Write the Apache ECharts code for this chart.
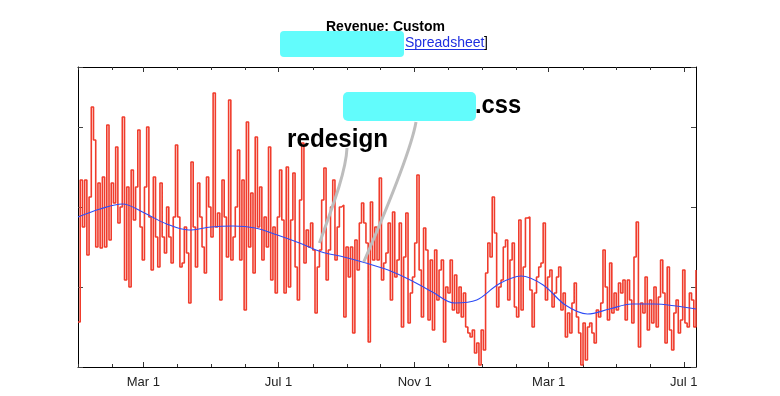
<!DOCTYPE html>
<html>
<head>
<meta charset="utf-8">
<title>Revenue: Custom</title>
<script src="https://cdn.jsdelivr.net/npm/echarts@6.0.0/dist/echarts.min.js"></script>
<style>
  html, body { margin: 0; padding: 0; background: #fff; }
  #main { width: 780px; height: 396px; }
</style>
</head>
<body>
<div id="main"></div>
<script>
// daily categories, Jan 1 2007 .. Jul 12 2008
const dayCount = 559;
const days = [];
for (let i = 0; i < dayCount; i++) {
  days.push(new Date(Date.UTC(2007, 0, 1 + i)).toISOString().slice(0, 10));
}
const monthNames = ['Jan', 'Feb', 'Mar', 'Apr', 'May', 'Jun', 'Jul', 'Aug', 'Sep', 'Oct', 'Nov', 'Dec'];
const labelMonths = ['Mar', 'Jul', 'Nov'];

// revenue, one value every 2 days
const revenue = [
  45,187,140,187,112,170,260,227,120,184,
  119,190,120,242,127,184,164,220,144,160,
  250,87,180,80,197,147,180,237,140,107,
  180,240,150,97,190,130,100,184,130,114,
  160,130,104,150,222,150,100,104,140,114,
  64,205,140,100,184,150,120,94,190,160,
  130,274,140,154,67,187,150,110,267,107,
  130,160,217,107,187,57,245,120,174,94,
  230,140,180,107,150,120,220,87,140,74,
  150,197,
  147,74,200,80,147,194,100,67,167,224,
  104,137,120,144,117,54,100,117,167,199,
  87,117,160,187,107,140,160,
  162,50,120,90,120,34,127,97,144,164,
  144,124,25,165,107,140,107,189,87,104,
  114,144,67,155,90,107,144,40,110,154,
  44,74,90,124,192,97,50,139,117,47,
  107,37,117,67,97,107,25,80,74,107,
  57,92,54,80,50,74,40,34,30,37,
  14,24,2,37,17,94,124,110,170,134,
  60,80,87,
  120,127,67,107,124,60,50,147,57,100,
  149,150,77,40,74,90,100,104,144,67,
  90,97,60,74,90,100,57,74,30,54,
  34,64,84,50,34,2,44,7,40,44,
  34,24,57,50,64,117,80,47,104,54,
  74,57,84,74,87,47,87,67,44,110,
  145,20,64,54,90,37,67,44,80,40,
  70,107,74,24,100,37,17,54,67,34,
  47,97,44,40,74,67,40,97
];
const revenueStep = 2;

// smoothed trend, one value every 20 days
const trend = [150,158,163,154,143,137,140,141,139,132,124,115,110,104,97,87,75,64,67,83,91,82,62,53,58,63,63,61,58];
const trendStep = 20;

// annotations
const notes = ['redesign', '.css'];
const noteDays = [218, 258];
const noteValues = [124, 105];

const font = '"Liberation Sans", Arial, Helvetica, sans-serif';

function isFirst(i) { return days[i].slice(8) === '01'; }
function isMajor(i) { return isFirst(i) && labelMonths.includes(monthNames[+days[i].slice(5, 7) - 1]); }

function xAxisDef(position, major, showLabel) {
  return {
    type: 'category',
    data: days,
    position: position,
    offset: 0,
    boundaryGap: false,
    axisLine: { show: major, lineStyle: { color: '#000', width: 1 } },
    axisTick: {
      show: true, inside: true, length: major ? 5 : 3,
      interval: major ? (i) => isMajor(i) : (i) => isFirst(i),
      lineStyle: { color: '#333' }
    },
    axisLabel: {
      show: showLabel,
      interval: (i) => isMajor(i),
      formatter: (v) => monthNames[+v.slice(5, 7) - 1] + ' ' + (+v.slice(8)),
      color: '#222', fontSize: 13, fontFamily: font, margin: 9
    },
    splitLine: { show: false }
  };
}

function yAxisDef(position) {
  return {
    type: 'value', min: 0, max: 300, interval: 80, position: position,
    axisLine: { show: true, lineStyle: { color: '#000', width: 1 } },
    axisTick: { show: true, inside: true, length: 5, lineStyle: { color: '#444' } },
    axisLabel: { show: false },
    splitLine: { show: false }
  };
}

const chart = echarts.init(document.getElementById('main'));
chart.setOption({
  animation: false,
  backgroundColor: '#fff',
  grid: { left: 78, right: 84, top: 67, bottom: 29, containLabel: false },
  xAxis: [
    xAxisDef('bottom', true, true),
    xAxisDef('bottom', false, false),
    xAxisDef('top', true, false),
    xAxisDef('top', false, false)
  ],
  yAxis: [yAxisDef('left'), yAxisDef('right')],
  series: [
    {
      name: 'Revenue', type: 'line', xAxisIndex: 0, yAxisIndex: 0,
      data: revenue.map((v, i) => [i * revenueStep, v]),
      step: 'end', showSymbol: false,
      lineStyle: { color: '#f03c2c', width: 1.6 }, z: 2
    },
    {
      name: 'Trend', type: 'line', xAxisIndex: 0, yAxisIndex: 0,
      data: trend.map((v, i) => [Math.min(i * trendStep, dayCount - 1), v]),
      smooth: 0.35, showSymbol: false,
      lineStyle: { color: '#2d4cf5', width: 1.1 }, z: 3
    }
  ]
});

// annotation pointers and labels
const p1 = chart.convertToPixel({ xAxisIndex: 0, yAxisIndex: 0 }, [noteDays[0], noteValues[0]]);
const p2 = chart.convertToPixel({ xAxisIndex: 0, yAxisIndex: 0 }, [noteDays[1], noteValues[1]]);

chart.setOption({
  graphic: [
    { type: 'bezierCurve', z: 10,
      shape: { x1: 347, y1: 148, cpx1: 346, cpy1: 170, cpx2: 335, cpy2: 200, x2: p1[0], y2: p1[1] },
      style: { stroke: '#bdbdbd', lineWidth: 3, fill: null } },
    { type: 'bezierCurve', z: 10,
      shape: { x1: 416, y1: 122, cpx1: 412, cpy1: 145, cpx2: 395, cpy2: 190, x2: p2[0], y2: p2[1] },
      style: { stroke: '#bdbdbd', lineWidth: 3, fill: null } },
    { type: 'text', z: 11, x: 287, y: 140, scaleX: 0.97,
      style: { text: notes[0], font: 'bold 25px ' + font, fill: '#000', verticalAlign: 'middle' } },
    { type: 'rect', z: 11, shape: { x: 343, y: 92, width: 133, height: 29, r: 5 },
      style: { fill: '#62fcfc' } },
    { type: 'text', z: 11, x: 475, y: 106, scaleX: 0.95,
      style: { text: notes[1], font: 'bold 25px ' + font, fill: '#000', verticalAlign: 'middle' } },
    // header
    { type: 'text', x: 385.5, y: 27,
      style: { text: 'Revenue: Custom', font: 'bold 14px ' + font, fill: '#000', align: 'center', verticalAlign: 'middle' } },
    { type: 'rect', shape: { x: 280, y: 31, width: 124, height: 26, r: 4 },
      style: { fill: '#62fcfc' } },
    { type: 'text', x: 405, y: 43,
      style: { text: 'Spreadsheet', font: '14px ' + font, fill: '#1f2fe0', verticalAlign: 'middle' } },
    { type: 'text', x: 484, y: 43,
      style: { text: ']', font: '14px ' + font, fill: '#000', verticalAlign: 'middle' } },
    { type: 'line', shape: { x1: 405, y1: 49.5, x2: 484, y2: 49.5 },
      style: { stroke: '#1f2fe0', lineWidth: 1 } }
  ]
});
</script>
</body>
</html>
